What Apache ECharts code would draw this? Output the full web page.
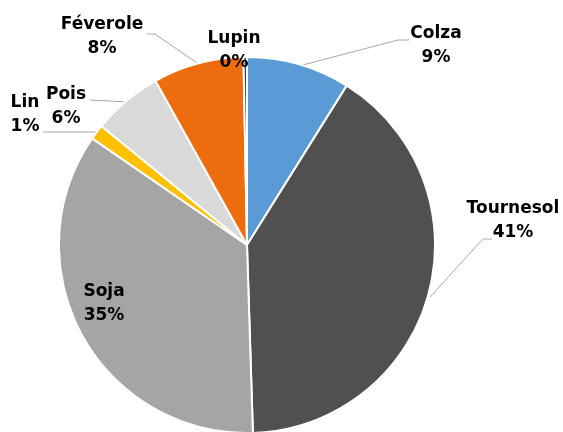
<!DOCTYPE html>
<html>
<head>
<meta charset="utf-8">
<script src="https://cdn.jsdelivr.net/npm/echarts@6/dist/echarts.min.js"></script>
<style>html,body{margin:0;padding:0;background:#fff}#c{width:563px;height:432px}</style>
</head>
<body>
<div id="c"></div>
<script>
var categories = ['Colza', 'Tournesol', 'Soja', 'Lin', 'Pois', 'Féverole', 'Lupin'];
var values = [8.9, 40.6, 35.1, 1.3, 6.0, 7.8, 0.3];
var colors = ['#5B9BD5', '#505050', '#A5A5A5', '#FFC000', '#D9D9D9', '#ED6D0E', '#264478'];
// label placement (layout only)
var labelPos = [
  {x: 436, y: 46, line: [[299, 66], [398, 40], [409, 40]]},
  {x: 513, y: 221, line: [[430, 297], [483, 239], [492, 239]]},
  {x: 104, y: 304, line: null},
  {x: 25, y: 115, line: [[97, 132], [70, 132], [43, 132]]},
  {x: 66, y: 107, line: [[127, 102], [110, 101], [90, 100]]},
  {x: 102, y: 37, line: [[197, 63], [155, 34], [147, 34]]},
  {x: 234, y: 51, line: null}
];

var chart = echarts.init(document.getElementById('c'));
chart.setOption({
  animation: false,
  series: [{
    type: 'pie',
    center: [247, 245],
    radius: 188,
    startAngle: 90,
    clockwise: true,
    percentPrecision: 0,
    avoidLabelOverlap: false,
    itemStyle: {borderColor: '#fff', borderWidth: 2},
    label: {
      formatter: '{b}\n{d}%',
      fontFamily: 'DejaVu Sans',
      fontWeight: 'bold',
      fontSize: 17,
      lineHeight: 24,
      color: '#000'
    },
    labelLine: {show: true, lineStyle: {color: '#A6A6A6', width: 1}},
    labelLayout: function (p) {
      var lp = labelPos[p.dataIndex];
      var o = {x: lp.x, y: lp.y, align: 'center', verticalAlign: 'middle'};
      if (lp.line) o.labelLinePoints = lp.line;
      return o;
    },
    data: categories.map(function (c, i) {
      return {
        name: c,
        value: values[i],
        itemStyle: {color: colors[i]},
        labelLine: {show: !!labelPos[i].line}
      };
    })
  }]
});
</script>
</body>
</html>
